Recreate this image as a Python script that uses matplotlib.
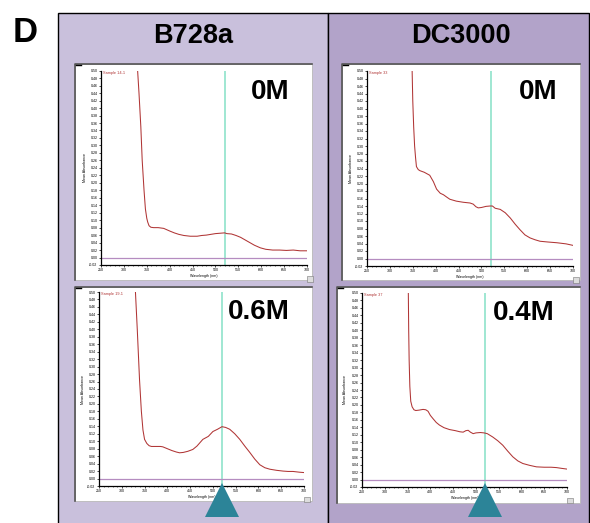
import matplotlib
matplotlib.use("Agg")
import matplotlib.pyplot as plt
from matplotlib.patches import Rectangle, Polygon
from matplotlib.lines import Line2D
from matplotlib.ticker import MultipleLocator, FuncFormatter

W, H = 590, 523
plt.rcParams['font.family'] = ['Liberation Sans', 'DejaVu Sans']

# ---------------- data ----------------
strains = ["B728a", "DC3000"]
conc_labels = ["0M", "0.6M", "0M", "0.4M"]
sample_names = ["Sample 14-1", "Sample 19-1", "Sample 33", "Sample 37"]
marker_wavelength = 520

wl_b728a_0 = [328, 330, 333, 337, 340, 344, 347, 350, 352, 355, 359, 365, 375, 387, 400, 410,
              420, 431, 445, 460, 470, 480, 490, 500, 510, 520, 525, 535, 545, 555, 565, 575,
              585, 598, 610, 625, 640, 655, 670, 685, 700]
ab_b728a_0 = [0.53, 0.50, 0.44, 0.35, 0.26, 0.18, 0.13, 0.105, 0.095, 0.085, 0.081, 0.080, 0.080,
              0.078, 0.071, 0.066, 0.062, 0.059, 0.057, 0.057, 0.059, 0.060, 0.062, 0.064, 0.065,
              0.066, 0.064, 0.063, 0.059, 0.054, 0.047, 0.040, 0.033, 0.026, 0.022, 0.020, 0.020,
              0.019, 0.020, 0.018, 0.018]

wl_b728a_06 = [328, 330, 334, 339, 343, 346.5, 350, 355, 360, 365, 375, 385, 390, 398, 410, 420,
               427, 435, 445, 456, 465, 478, 490, 500, 510, 520, 528, 537, 548, 559, 570, 581,
               592, 603, 614, 625, 640, 654, 665, 676, 690, 700]
ab_b728a_06 = [0.53, 0.50, 0.40, 0.264, 0.18, 0.13, 0.105, 0.094, 0.088, 0.086, 0.086, 0.086,
               0.085, 0.081, 0.075, 0.071, 0.069, 0.070, 0.073, 0.078, 0.087, 0.105, 0.113,
               0.126, 0.132, 0.139, 0.137, 0.132, 0.120, 0.105, 0.087, 0.070, 0.052, 0.037,
               0.029, 0.025, 0.022, 0.020, 0.019, 0.019, 0.017, 0.016]

wl_dc_0 = [347, 348.6, 350, 352, 354, 356, 358, 362, 366, 375, 387, 395, 402, 410, 417, 425, 431,
           445, 460, 475, 482, 488, 493, 500, 510, 519, 524, 530, 541, 552, 563, 574, 584, 595,
           606, 617, 628, 645, 665, 685, 700]
ab_dc_0 = [0.53, 0.50, 0.42, 0.35, 0.30, 0.27, 0.245, 0.237, 0.234, 0.230, 0.222, 0.205, 0.185,
           0.174, 0.170, 0.163, 0.158, 0.153, 0.150, 0.148, 0.145, 0.138, 0.135, 0.136, 0.139,
           0.140, 0.140, 0.134, 0.131, 0.122, 0.108, 0.091, 0.077, 0.063, 0.055, 0.050, 0.046,
           0.044, 0.042, 0.039, 0.035]

wl_dc_04 = [351, 351.7, 352.5, 353.5, 355, 357, 360, 364, 368, 375, 384, 390, 395, 400, 406, 413,
            420, 430, 442, 455, 465, 472, 478, 483, 488, 494, 500, 510, 518, 525, 537, 548, 559,
            570, 581, 592, 603, 618, 633, 650, 665, 677, 688, 700]
ab_dc_04 = [0.53, 0.50, 0.40, 0.32, 0.25, 0.21, 0.195, 0.187, 0.185, 0.186, 0.188, 0.187, 0.183,
            0.172, 0.163, 0.153, 0.146, 0.139, 0.134, 0.131, 0.128, 0.127, 0.131, 0.132, 0.127,
            0.123, 0.125, 0.126, 0.125, 0.123, 0.114, 0.104, 0.092, 0.076, 0.061, 0.050, 0.043,
            0.038, 0.034, 0.033, 0.033, 0.032, 0.030, 0.028]

series = [(wl_b728a_0, ab_b728a_0), (wl_b728a_06, ab_b728a_06),
          (wl_dc_0, ab_dc_0), (wl_dc_04, ab_dc_04)]

# ---------------- layout (pixels) ----------------
panel_px = [(75, 64, 312, 280), (75, 287, 312, 501), (342, 64, 580, 280), (337, 287, 580, 503)]
axes_px = [(101, 70.7, 307, 265), (99, 292, 304, 486), (367, 71, 573, 266), (362, 293, 567, 487)]
label_px = [(290, 92), (290, 312), (557, 92), (555, 313)]
tri_x = [222, 485]

fig = plt.figure(figsize=(W / 100, H / 100), dpi=100)

def fx(x):
    return x / W

def fy(y):
    return 1 - y / H

col_left = "#C9C0DC"
col_right = "#B2A3C9"
fig.patches.append(Rectangle((fx(58), fy(530)), fx(328) - fx(58), fy(13) - fy(530),
                             transform=fig.transFigure, facecolor=col_left, edgecolor="black",
                             lw=1.0, zorder=-5))
fig.patches.append(Rectangle((fx(328), fy(530)), fx(589) - fx(328), fy(13) - fy(530),
                             transform=fig.transFigure, facecolor=col_right, edgecolor="black",
                             lw=1.0, zorder=-5))

fig.text(fx(25), fy(32), "D", fontsize=25, fontweight="bold", ha="center", va="center")
fig.text(fx(193), fy(36), strains[0], fontsize=19.5, fontweight="bold", ha="center", va="center")
fig.text(fx(461), fy(36), strains[1], fontsize=19.5, fontweight="bold", ha="center", va="center")

for (x0, y0, x1, y1) in panel_px:
    fig.patches.append(Rectangle((fx(x0), fy(y1)), fx(x1) - fx(x0), fy(y0) - fy(y1),
                                 transform=fig.transFigure, facecolor="white",
                                 edgecolor="#B8B8B8", lw=0.6, zorder=-4))
    fig.lines.append(Line2D([fx(x0), fx(x0), fx(x1)], [fy(y1), fy(y0), fy(y0)],
                            transform=fig.transFigure, color="#555555", lw=1.2, zorder=-3))
    fig.lines.append(Line2D([fx(x0 + 1), fx(x0 + 6)], [fy(y0 + 1), fy(y0 + 1)],
                            transform=fig.transFigure, color="black", lw=1.0, zorder=-3))

red = "#B03535"
for i, ((wl, ab), (x0, y0, x1, y1)) in enumerate(zip(series, axes_px)):
    ax = fig.add_axes([fx(x0), fy(y1), fx(x1) - fx(x0), fy(y0) - fy(y1)])
    ax.set_facecolor("none")
    ax.plot(wl, ab, color=red, lw=0.75, zorder=3)
    ax.axvline(marker_wavelength, color="#8FE3CB", lw=1.2, zorder=2)
    ax.axhline(0.0, color="#B58CC0", lw=0.9, zorder=2)
    ax.set_xlim(250, 700)
    ax.set_ylim(-0.02, 0.50)
    ax.yaxis.set_major_locator(MultipleLocator(0.02))
    ax.xaxis.set_major_locator(MultipleLocator(50))
    ax.xaxis.set_minor_locator(MultipleLocator(10))
    ax.yaxis.set_major_formatter(FuncFormatter(lambda v, p: f"{v:.2f}"))
    ax.tick_params(axis="both", which="major", labelsize=2.6, length=1.5, width=0.5, pad=1)
    ax.tick_params(axis="x", which="minor", length=1.0, width=0.4)
    for s in ("top", "right"):
        ax.spines[s].set_visible(False)
    for s in ("left", "bottom"):
        ax.spines[s].set_linewidth(0.9)
    ax.set_xlabel("Wavelength (nm)", fontsize=2.6, labelpad=1)
    ax.set_ylabel("Mean Absorbance", fontsize=2.6, labelpad=2)
    ax.text(0.01, 0.998, sample_names[i], transform=ax.transAxes, color=red, fontsize=2.8,
            ha="left", va="top")
    ax.add_patch(Rectangle((1.0, -0.085), 0.03, 0.03, transform=ax.transAxes,
                           facecolor="#DDDDDD", edgecolor="#777777", lw=0.4, clip_on=False))
    lx, ly = label_px[i]
    fig.text(fx(lx), fy(ly), conc_labels[i], fontsize=20, fontweight="bold",
             ha="right", va="center")

teal = "#2C8498"
for tx in tri_x:
    fig.patches.append(Polygon([(fx(tx), fy(483)), (fx(tx - 17), fy(517)), (fx(tx + 17), fy(517))],
                               closed=True, transform=fig.transFigure, facecolor=teal,
                               edgecolor="none", zorder=5))

fig.savefig("out.png", dpi=100)
